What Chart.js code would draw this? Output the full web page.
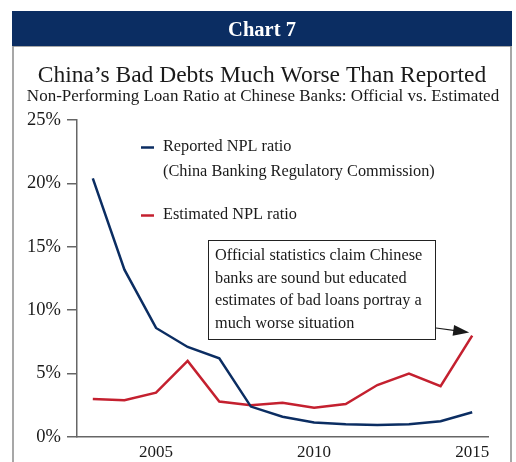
<!DOCTYPE html>
<html>
<head>
<meta charset="utf-8">
<title>Chart 7</title>
<script src="https://cdn.jsdelivr.net/npm/chart.js@4/dist/chart.umd.min.js"></script>
<style>
  html, body { margin: 0; padding: 0; background: #fff; }
  #wrap { position: relative; width: 516px; height: 462px; }
</style>
</head>
<body>
<div id="wrap"><canvas id="chart" width="516" height="462"></canvas></div>
<script>
const years = [2003, 2004, 2005, 2006, 2007, 2008, 2009, 2010, 2011, 2012, 2013, 2014, 2015];
const reportedNpl = [20.4, 13.2, 8.6, 7.1, 6.2, 2.4, 1.6, 1.15, 1.0, 0.95, 1.0, 1.25, 1.95];
const estimatedNpl = [3.0, 2.9, 3.5, 6.0, 2.8, 2.5, 2.7, 2.3, 2.6, 4.1, 5.0, 4.0, 8.0];
const xTickYears = [2005, 2010, 2015];
const seriesNames = ['Reported NPL ratio', 'Estimated NPL ratio'];
const noteLines = [
    'Official statistics claim Chinese',
    'banks are sound but educated',
    'estimates of bad loans portray a',
    'much worse situation'
];

const NAVY = '#0b2d62';
const RED = '#c4202f';
const SERIF = '"Liberation Serif", "DejaVu Serif", serif';

document.addEventListener("DOMContentLoaded", function() {
    const ctxEl = document.getElementById('chart').getContext('2d');

    // frame, banner and headings
    const framePlugin = {
        id: 'frame',
        beforeDraw(chart) {
            const c = chart.ctx;
            c.save();
            c.fillStyle = '#fff';
            c.fillRect(0, 0, chart.width, chart.height);
            c.strokeStyle = '#8a8a8a';
            c.lineWidth = 1.5;
            c.strokeRect(13, 46, 498, 430);
            c.fillStyle = NAVY;
            c.fillRect(12, 11, 500, 35);
            c.fillStyle = '#fff';
            c.textAlign = 'center';
            c.textBaseline = 'alphabetic';
            c.font = 'bold 20.5px ' + SERIF;
            c.fillText('Chart 7', 262, 36);
            c.fillStyle = '#1a1a1a';
            c.font = '23.5px ' + SERIF;
            c.fillText('China\u2019s Bad Debts Much Worse Than Reported', 262, 82);
            c.font = '17px ' + SERIF;
            c.fillText('Non-Performing Loan Ratio at Chinese Banks: Official vs. Estimated', 263, 101);
            c.restore();
        },
        afterDraw(chart) {
            const c = chart.ctx;
            c.save();
            // legend
            c.lineWidth = 2.5;
            c.strokeStyle = NAVY;
            c.beginPath(); c.moveTo(141, 147.5); c.lineTo(154, 147.5); c.stroke();
            c.strokeStyle = RED;
            c.beginPath(); c.moveTo(141, 215.5); c.lineTo(154, 215.5); c.stroke();
            c.fillStyle = '#1a1a1a';
            c.font = '16.3px ' + SERIF;
            c.textAlign = 'left';
            c.textBaseline = 'middle';
            c.fillText(seriesNames[0], 163, 147);
            c.fillText('(China Banking Regulatory Commission)', 163, 172);
            c.fillText(seriesNames[1], 163, 215);

            // annotation box
            c.fillStyle = '#fff';
            c.fillRect(208, 240, 227, 99);
            c.strokeStyle = '#222';
            c.lineWidth = 1;
            c.strokeRect(208.5, 240.5, 227, 99);
            c.fillStyle = '#1a1a1a';
            c.font = '16.3px ' + SERIF;
            noteLines.forEach((line, i) => c.fillText(line, 215, 256 + i * 22.5));

            // arrow toward the last estimate
            const xs = chart.scales.x, ys = chart.scales.y;
            const tipX = xs.getPixelForValue(years[years.length - 1]) - 3;
            const tipY = ys.getPixelForValue(estimatedNpl[estimatedNpl.length - 1]) - 3;
            const sx = 436, sy = 328;
            const ang = Math.atan2(tipY - sy, tipX - sx);
            c.strokeStyle = '#1a1a1a';
            c.lineWidth = 1.2;
            c.beginPath(); c.moveTo(sx, sy);
            c.lineTo(tipX - 12 * Math.cos(ang), tipY - 12 * Math.sin(ang)); c.stroke();
            c.fillStyle = '#1a1a1a';
            c.beginPath();
            c.moveTo(tipX, tipY);
            c.lineTo(tipX - 16 * Math.cos(ang) + 5.5 * Math.sin(ang), tipY - 16 * Math.sin(ang) - 5.5 * Math.cos(ang));
            c.lineTo(tipX - 16 * Math.cos(ang) - 5.5 * Math.sin(ang), tipY - 16 * Math.sin(ang) + 5.5 * Math.cos(ang));
            c.closePath(); c.fill();
            c.restore();
        }
    };

    const toPoints = vals => years.map((yr, i) => ({ x: yr, y: vals[i] }));

    new Chart(ctxEl, {
        type: 'line',
        data: {
            datasets: [{
                label: seriesNames[0],
                data: toPoints(reportedNpl),
                borderColor: NAVY,
                borderWidth: 2.5,
                pointRadius: 0,
                tension: 0
            }, {
                label: seriesNames[1],
                data: toPoints(estimatedNpl),
                borderColor: RED,
                borderWidth: 2.5,
                pointRadius: 0,
                tension: 0
            }]
        },
        options: {
            responsive: false,
            animation: false,
            layout: { padding: { left: 0, right: 28, top: 120, bottom: 0 } },
            plugins: { legend: { display: false }, tooltip: { enabled: false } },
            scales: {
                x: {
                    type: 'linear',
                    min: 2002.5,
                    max: 2015.5,
                    afterBuildTicks: s => { s.ticks = xTickYears.map(v => ({ value: v })); },
                    afterFit: s => { s.height = 25; },
                    grid: { display: false, drawTicks: false },
                    border: { color: '#666', width: 1.5 },
                    ticks: {
                        color: '#1a1a1a',
                        font: { family: SERIF, size: 17 },
                        padding: 5,
                        maxRotation: 0,
                        callback: v => String(v)
                    }
                },
                y: {
                    min: 0,
                    max: 25,
                    afterFit: s => { s.width = 77; },
                    grid: { drawOnChartArea: false, color: '#666', tickLength: 10, lineWidth: 1.5 },
                    border: { color: '#666', width: 1.5 },
                    ticks: {
                        stepSize: 5,
                        color: '#1a1a1a',
                        font: { family: SERIF, size: 18.5 },
                        padding: 6,
                        callback: v => v + '%'
                    }
                }
            }
        },
        plugins: [framePlugin]
    });
});
</script>
</body>
</html>
